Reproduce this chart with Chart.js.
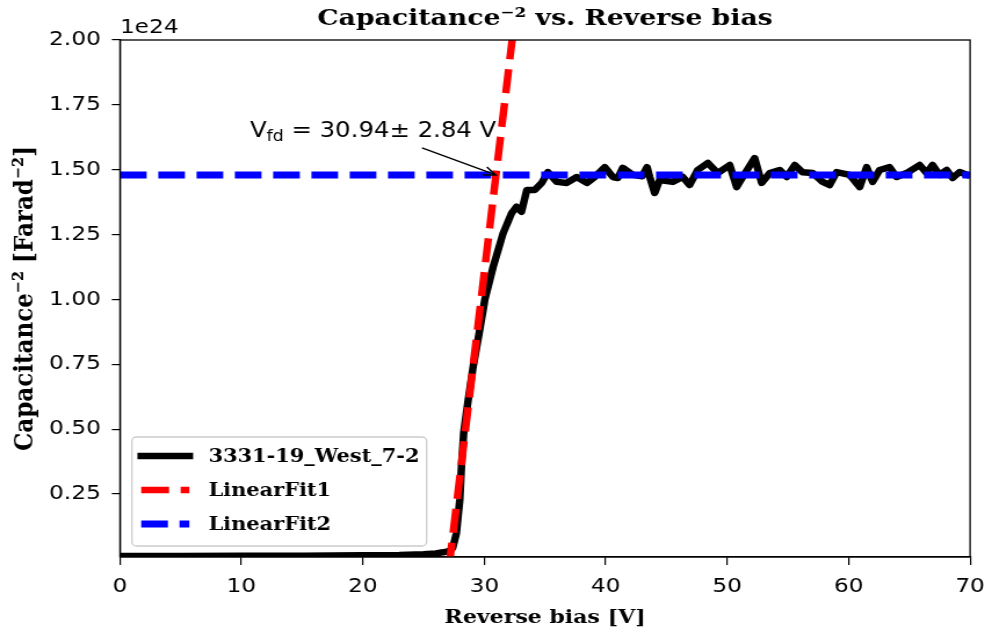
<!DOCTYPE html>
<html>
<head>
<meta charset="utf-8">
<title>Capacitance^-2 vs. Reverse bias</title>
<script src="https://cdn.jsdelivr.net/npm/chart.js@4.4.0/dist/chart.umd.min.js"></script>
<style>
    html, body { margin: 0; padding: 0; background: #fff; }
    #wrap { width: 992px; height: 637px; }
</style>
</head>
<body>
<!-- the original figure is stretched a little horizontally -->
<div id="wrap"><canvas id="cvChart" width="855" height="637" style="width:992px;height:637px;display:block"></canvas></div>
<script>
// Reverse bias [V] and measured 1/C^2 (in units of 1e24 Farad^-2)
const biasV = [
    0, 5, 10, 15, 20, 23, 25, 26, 26.6, 27.1, 27.4, 27.7, 27.98, 28.12, 28.3,
    28.67, 29.08, 29.57, 30.04, 30.73, 31.55, 32.24, 32.65, 33.06, 33.5, 34.16,
    34.73, 35.23, 35.97, 36.79, 37.61, 38.44, 39.09, 39.92, 40.58, 40.99, 41.4,
    42.22, 43.0, 43.4, 43.62, 44.03, 44.44, 45.51, 46.34, 46.91, 47.57, 48.4,
    49.22, 50.21, 50.78, 51.28, 52.26, 52.84, 53.5, 54.32, 54.9, 55.56, 56.2,
    57.04, 57.86, 58.44, 59.01, 60.08, 60.91, 61.48, 61.98, 62.55, 63.37, 63.95,
    64.77, 65.84, 66.42, 66.91, 67.49, 68.07, 68.56, 69.14, 69.79, 70
];
const capInv2 = [
    0.011, 0.011, 0.012, 0.012, 0.014, 0.015, 0.018, 0.021, 0.025, 0.030, 0.042, 0.098, 0.227, 0.355, 0.485,
    0.612, 0.740, 0.869, 0.998, 1.126, 1.255, 1.332, 1.357, 1.338, 1.422, 1.422,
    1.449, 1.491, 1.453, 1.449, 1.472, 1.449, 1.472, 1.510, 1.472, 1.468, 1.507,
    1.480, 1.475, 1.510, 1.472, 1.410, 1.460, 1.453, 1.472, 1.441, 1.499, 1.526,
    1.487, 1.518, 1.433, 1.472, 1.545, 1.449, 1.487, 1.499, 1.472, 1.518, 1.490,
    1.487, 1.453, 1.441, 1.491, 1.480, 1.433, 1.510, 1.453, 1.499, 1.510, 1.472,
    1.487, 1.518, 1.487, 1.518, 1.480, 1.499, 1.468, 1.491, 1.480, 1.475
];

// linear fits (end points)
const fit1V = [27.1, 32.6];
const fit1Val = [-0.03, 2.121];
const fit2V = [0, 70];
const fit2Val = [1.48, 1.48];

// full depletion voltage
const vfd = 30.94;
const vfdErr = 2.84;

const xTicks = [0, 10, 20, 30, 40, 50, 60, 70];
const yTicks = [0.25, 0.5, 0.75, 1.0, 1.25, 1.5, 1.75, 2.0];

const seriesLabels = ['3331-19_West_7-2', 'LinearFit1', 'LinearFit2'];

const SERIF = '"DejaVu Serif", serif';
const SANS = '"DejaVu Sans", sans-serif';

function toPoints(xs, ys) {
    return xs.map((v, i) => ({ x: v, y: ys[i] }));
}

/**
 * Frame, offset text, annotation and legend (matplotlib look)
 */
const extrasPlugin = {
    id: 'extras',
    afterDatasetsDraw(chart) {
        const { ctx, chartArea: a, scales } = chart;
        const x = scales.x, y = scales.y;
        ctx.save();

        // axes frame
        ctx.strokeStyle = '#000';
        ctx.lineWidth = 1.3;
        ctx.strokeRect(a.left, a.top, a.right - a.left, a.bottom - a.top);

        // offset text
        ctx.fillStyle = '#000';
        ctx.font = '20px ' + SANS;
        ctx.textAlign = 'left';
        ctx.textBaseline = 'alphabetic';
        ctx.fillText('1e24', a.left, 33);

        // annotation: V_fd = ...
        const tx = x.getPixelForValue(10.7);
        const ty = y.getPixelForValue(1.626);
        ctx.font = '21px ' + SANS;
        ctx.fillText('V', tx, ty);
        let cx = tx + ctx.measureText('V').width;
        ctx.font = '15px ' + SANS;
        ctx.fillText('fd', cx, ty + 4);
        cx += ctx.measureText('fd').width;
        ctx.font = '21px ' + SANS;
        ctx.fillText(' = ' + vfd.toFixed(2) + '\u00b1 ' + vfdErr.toFixed(2) + ' V', cx, ty);

        // arrow
        const x0 = x.getPixelForValue(24.87), y0 = y.getPixelForValue(1.584);
        const x1 = x.getPixelForValue(vfd), y1 = y.getPixelForValue(fit2Val[0]);
        const ang = Math.atan2(y1 - y0, x1 - x0);
        ctx.lineWidth = 1.5;
        ctx.beginPath();
        ctx.moveTo(x0, y0);
        ctx.lineTo(x1, y1);
        ctx.moveTo(x1 - 11 * Math.cos(ang - 0.4), y1 - 11 * Math.sin(ang - 0.4));
        ctx.lineTo(x1, y1);
        ctx.lineTo(x1 - 11 * Math.cos(ang + 0.4), y1 - 11 * Math.sin(ang + 0.4));
        ctx.stroke();

        // legend box
        const lx = a.left + 10.3, ly = 437, lw = 254, lh = 109, r = 4;
        ctx.beginPath();
        ctx.moveTo(lx + r, ly);
        ctx.arcTo(lx + lw, ly, lx + lw, ly + lh, r);
        ctx.arcTo(lx + lw, ly + lh, lx, ly + lh, r);
        ctx.arcTo(lx, ly + lh, lx, ly, r);
        ctx.arcTo(lx, ly, lx + lw, ly, r);
        ctx.closePath();
        ctx.fillStyle = 'rgba(255,255,255,0.8)';
        ctx.fill();
        ctx.strokeStyle = '#cccccc';
        ctx.lineWidth = 1.3;
        ctx.stroke();

        chart.data.datasets.forEach((ds, i) => {
            const rowY = 456 + i * 34;
            ctx.strokeStyle = ds.borderColor;
            ctx.lineWidth = ds.borderWidth;
            ctx.setLineDash(ds.borderDash || []);
            ctx.lineCap = ds.borderDash ? 'butt' : 'square';
            ctx.beginPath();
            ctx.moveTo(lx + 8, rowY);
            ctx.lineTo(lx + 49.5, rowY);
            ctx.stroke();
            ctx.setLineDash([]);
            ctx.lineCap = 'butt';
            ctx.fillStyle = '#000';
            ctx.font = 'bold 18px ' + SERIF;
            ctx.textBaseline = 'middle';
            ctx.fillText(ds.label, lx + 66, rowY + 1);
        });

        ctx.restore();
    }
};

const datasets = [
    {
        label: seriesLabels[0],
        data: toPoints(biasV, capInv2),
        borderColor: '#000000',
        borderWidth: 6.5,
        borderJoinStyle: 'round',
        pointRadius: 0,
        tension: 0,
        order: 3
    },
    {
        label: seriesLabels[1],
        data: toPoints(fit1V, fit1Val),
        borderColor: '#ff0000',
        borderWidth: 6.5,
        borderDash: [24, 10],
        pointRadius: 0,
        order: 2
    },
    {
        label: seriesLabels[2],
        data: toPoints(fit2V, fit2Val),
        borderColor: '#0000ff',
        borderWidth: 7,
        borderDash: [23, 10],
        pointRadius: 0,
        order: 1
    }
];

new Chart(document.getElementById('cvChart'), {
    type: 'line',
    data: { datasets: datasets },
    options: {
        responsive: false,
        animation: false,
        events: [],
        layout: { padding: { top: 0, right: 18.9, bottom: 0, left: 0 } },
        plugins: {
            legend: { display: false },
            tooltip: { enabled: false },
            title: {
                display: true,
                fullSize: false,
                text: 'Capacitance\u207b\u00b2 vs. Reverse bias',
                color: '#000',
                font: { family: SERIF, size: 23, weight: 'bold', lineHeight: 1.2 },
                padding: { top: 5, bottom: 7.4 }
            }
        },
        scales: {
            x: {
                type: 'linear',
                min: 0,
                max: 70,
                afterFit: (s) => {
                    s.height = 80;
                    // edge labels may overhang; keep the plot box fixed
                    s.paddingLeft = 0;
                    s.paddingRight = 0;
                },
                afterBuildTicks: (s) => { s.ticks = xTicks.map(v => ({ value: v })); },
                ticks: {
                    color: '#000',
                    font: { family: SANS, size: 20 },
                    padding: 10,
                    maxRotation: 0,
                    callback: (v) => String(v)
                },
                grid: { drawOnChartArea: false, drawTicks: true, tickLength: 8, color: '#000', lineWidth: 1.2 },
                border: { display: true, color: '#000', width: 1.3 },
                title: {
                    display: true,
                    text: 'Reverse bias [V]',
                    color: '#000',
                    font: { family: SERIF, size: 19, weight: 'bold', lineHeight: 1.2 },
                    padding: { top: 0, bottom: 8 }
                }
            },
            y: {
                type: 'linear',
                min: 0.007,
                max: 2.0,
                afterFit: (s) => { s.width = 103.4; },
                afterBuildTicks: (s) => { s.ticks = yTicks.map(v => ({ value: v })); },
                ticks: {
                    color: '#000',
                    font: { family: SANS, size: 20 },
                    padding: 9.5,
                    callback: (v) => Number(v).toFixed(2)
                },
                grid: { drawOnChartArea: false, drawTicks: true, tickLength: 7, color: '#000', lineWidth: 1.2 },
                border: { display: true, color: '#000', width: 1.3 },
                title: {
                    display: true,
                    text: 'Capacitance\u207b\u00b2 [Farad\u207b\u00b2]',
                    color: '#000',
                    font: { family: SERIF, size: 23, weight: 'bold', lineHeight: 1.2 },
                    padding: { top: 8, bottom: 0 }
                }
            }
        }
    },
    plugins: [extrasPlugin]
});
</script>
</body>
</html>
